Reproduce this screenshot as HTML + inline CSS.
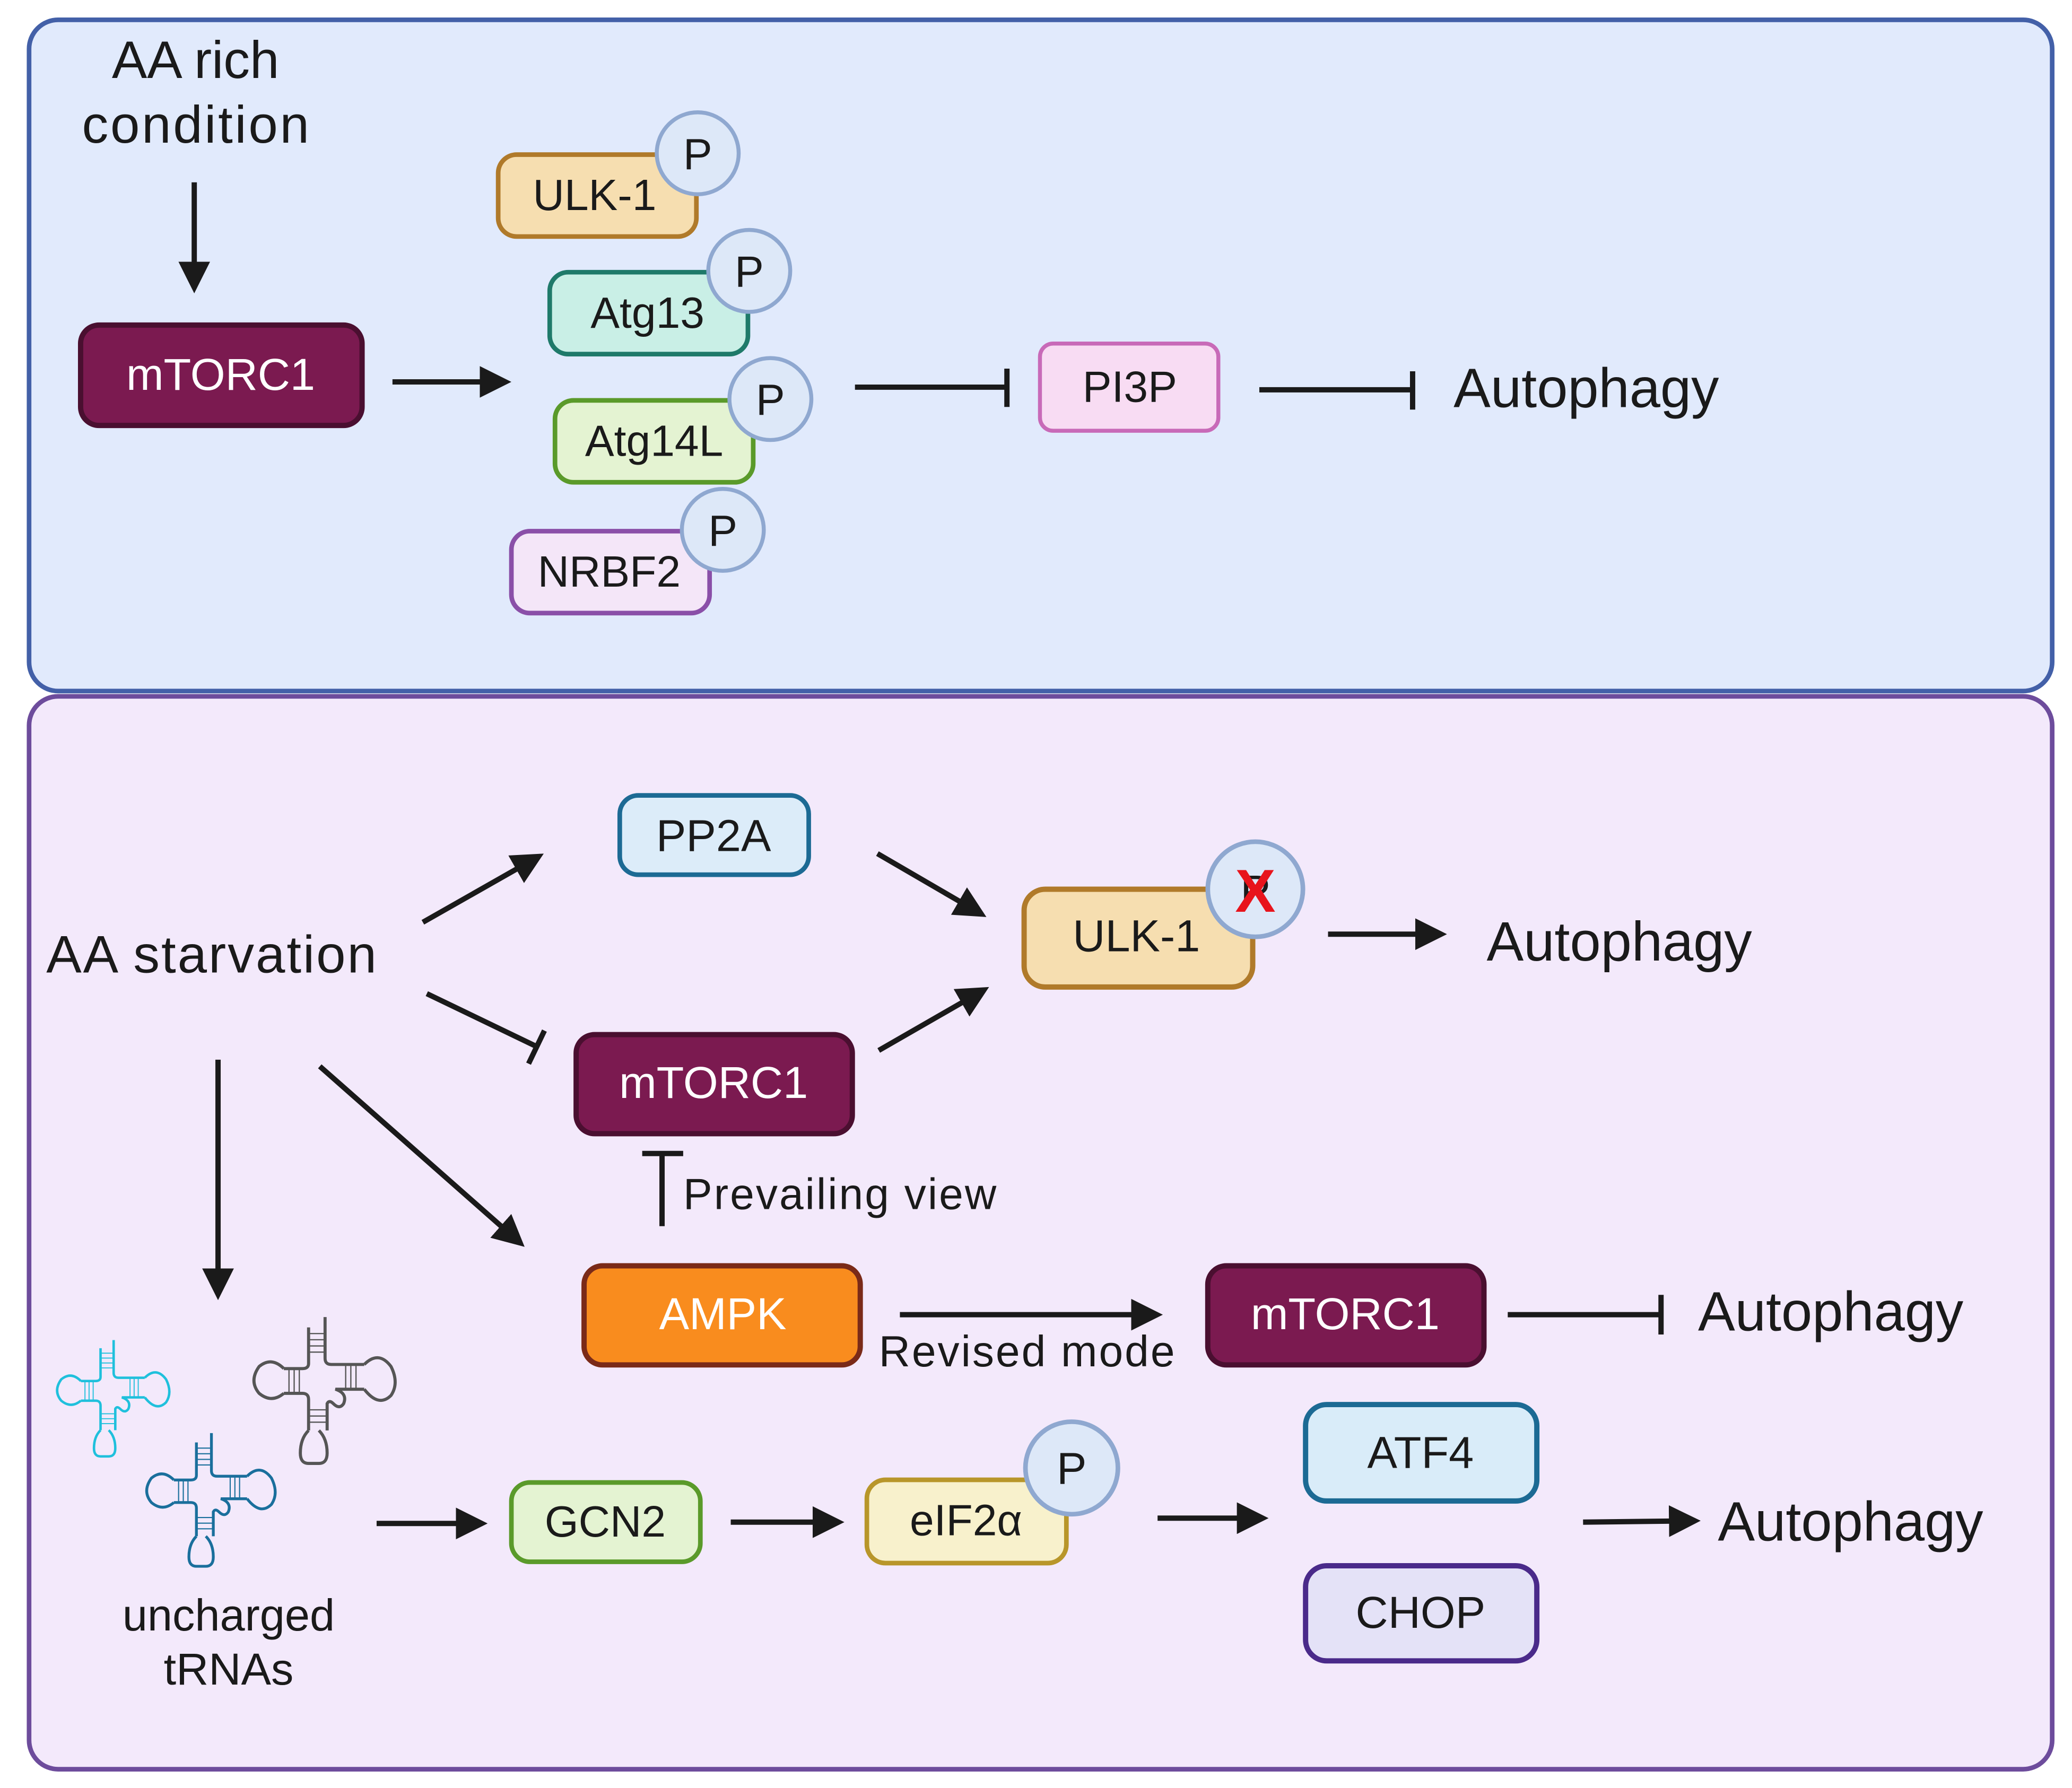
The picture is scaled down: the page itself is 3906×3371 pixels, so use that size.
<!DOCTYPE html>
<html><head><meta charset="utf-8"><style>
html,body{margin:0;padding:0;background:#fff}
svg{display:block}
text{font-family:"Liberation Sans",Arial,sans-serif;fill:#1a1a1a}
</style></head><body>
<svg width="3906" height="3371" viewBox="0 0 1568 1353.2" xmlns="http://www.w3.org/2000/svg">
<defs>
<marker id="ah" markerWidth="6" markerHeight="6" refX="5" refY="3" orient="auto" markerUnits="strokeWidth">
<path d="M0,0 L6,3 L0,6 z" fill="#1a1a1a"/></marker>
<g id="trna" fill="none" stroke-width="3">
<path d="M0,-40 V0 Q0,6 6,6 H38"/>
<path d="M-16,-30 V5 Q-16,10 -22,10 H-40"/>
<path d="M-40,34 H-22 Q-16,34 -16,40 V70"/>
<path d="M2,70 V44 Q4,40 8,44 Q14,50 18,44 Q22,34 10,30 H38"/>
<path d="M38,6 Q52,-8 64,8 Q72,24 64,36 Q52,48 38,30"/>
<path d="M-40,10 Q-52,-2 -64,8 Q-74,22 -64,34 Q-52,44 -40,34"/>
<path d="M-16,70 Q-24,78 -24,92 Q-24,102 -16,102 H-6 Q2,102 2,92 Q2,78 -6,70"/>
<path stroke-width="1.2" d="M-16,-24 H0 M-16,-18 H0 M-16,-12 H0 M-16,-6 H0 M-35,10 V34 M-30,10 V34 M-25,10 V34 M20,6 V30 M25,6 V30 M30,6 V30 M-16,50 H2 M-16,56 H2 M-16,62 H2"/>
</g>
</defs>

<!-- panels -->
<rect x="22" y="15" width="1531" height="508" rx="22" fill="#e1eafc" stroke="#4360a8" stroke-width="3.5"/>
<rect x="22" y="527" width="1531" height="812" rx="22" fill="#f3e9fb" stroke="#6d4c9c" stroke-width="3.5"/>

<!-- top panel -->
<text x="148" y="59" font-size="40" text-anchor="middle">AA rich</text>
<text x="148" y="108" font-size="40" text-anchor="middle" textLength="172">condition</text>
<line x1="147" y1="138" x2="147" y2="218" stroke="#1a1a1a" stroke-width="4" marker-end="url(#ah)"/>
<rect x="61" y="246" width="213" height="76" rx="14" fill="#7b1a50" stroke="#4a0f30" stroke-width="4"/>
<text x="167" y="295" font-size="34" text-anchor="middle" style="fill:#fff">mTORC1</text>
<line x1="297" y1="289" x2="383" y2="289" stroke="#1a1a1a" stroke-width="4" marker-end="url(#ah)"/>

<rect x="377" y="117" width="150" height="62" rx="14" fill="#f6deb0" stroke="#b07a2a" stroke-width="3.5"/>
<text x="450" y="159" font-size="33" text-anchor="middle">ULK-1</text>
<circle cx="528" cy="116" r="31" fill="#dde8f8" stroke="#8fa8d0" stroke-width="3"/>
<text x="528" y="128" font-size="33" text-anchor="middle">P</text>

<rect x="416" y="206" width="150" height="62" rx="14" fill="#c9efe6" stroke="#1f7a6a" stroke-width="3.5"/>
<text x="490" y="248" font-size="33" text-anchor="middle">Atg13</text>
<circle cx="567" cy="205" r="31" fill="#dde8f8" stroke="#8fa8d0" stroke-width="3"/>
<text x="567" y="217" font-size="33" text-anchor="middle">P</text>

<rect x="420" y="303" width="150" height="62" rx="14" fill="#e4f3d2" stroke="#5a9a2a" stroke-width="3.5"/>
<text x="495" y="345" font-size="33" text-anchor="middle">Atg14L</text>
<circle cx="583" cy="302" r="31" fill="#dde8f8" stroke="#8fa8d0" stroke-width="3"/>
<text x="583" y="314" font-size="33" text-anchor="middle">P</text>

<rect x="387" y="402" width="150" height="62" rx="14" fill="#f4e6f8" stroke="#8a4fa8" stroke-width="3.5"/>
<text x="461" y="444" font-size="33" text-anchor="middle">NRBF2</text>
<circle cx="547" cy="401" r="31" fill="#dde8f8" stroke="#8fa8d0" stroke-width="3"/>
<text x="547" y="413" font-size="33" text-anchor="middle">P</text>

<line x1="647" y1="293" x2="762" y2="293" stroke="#1a1a1a" stroke-width="4"/>
<line x1="762" y1="279" x2="762" y2="308" stroke="#1a1a1a" stroke-width="4"/>
<rect x="787" y="260" width="135" height="66" rx="10" fill="#f8dcf3" stroke="#c86ab8" stroke-width="3"/>
<text x="855" y="304" font-size="33" text-anchor="middle">PI3P</text>
<line x1="953" y1="295" x2="1069" y2="295" stroke="#1a1a1a" stroke-width="4"/>
<line x1="1069" y1="281" x2="1069" y2="310" stroke="#1a1a1a" stroke-width="4"/>
<text x="1100" y="308" font-size="42">Autophagy</text>

<!-- bottom panel -->
<text x="35" y="736" font-size="40" textLength="250">AA starvation</text>
<line x1="320" y1="698" x2="408" y2="648" stroke="#1a1a1a" stroke-width="4" marker-end="url(#ah)"/>
<rect x="469" y="602" width="143" height="60" rx="14" fill="#dcecf9" stroke="#1c6a94" stroke-width="3.5"/>
<text x="540" y="644" font-size="34" text-anchor="middle">PP2A</text>
<line x1="664" y1="646" x2="743" y2="692" stroke="#1a1a1a" stroke-width="4" marker-end="url(#ah)"/>
<line x1="665" y1="795" x2="745" y2="749" stroke="#1a1a1a" stroke-width="4" marker-end="url(#ah)"/>

<rect x="775" y="673" width="173" height="74" rx="16" fill="#f6deb0" stroke="#b07a2a" stroke-width="4"/>
<text x="860" y="720" font-size="34" text-anchor="middle">ULK-1</text>
<circle cx="950" cy="673" r="36" fill="#dde8f8" stroke="#8fa8d0" stroke-width="3.5"/>
<text x="950" y="686" font-size="34" text-anchor="middle">P</text>
<text x="950" y="690" font-size="46" font-weight="bold" text-anchor="middle" style="fill:#e8141c">X</text>
<line x1="1005" y1="707" x2="1091" y2="707" stroke="#1a1a1a" stroke-width="4" marker-end="url(#ah)"/>
<text x="1125" y="727" font-size="42">Autophagy</text>

<line x1="323" y1="752" x2="406" y2="792" stroke="#1a1a1a" stroke-width="4"/>
<line x1="400" y1="805" x2="412" y2="780" stroke="#1a1a1a" stroke-width="4"/>
<rect x="436" y="783" width="209" height="75" rx="14" fill="#7b1a50" stroke="#4a0f30" stroke-width="4"/>
<text x="540" y="831" font-size="34" text-anchor="middle" style="fill:#fff">mTORC1</text>

<line x1="501" y1="928" x2="501" y2="873" stroke="#1a1a1a" stroke-width="4"/>
<line x1="486" y1="873" x2="517" y2="873" stroke="#1a1a1a" stroke-width="4"/>
<text x="517" y="915" font-size="33" textLength="237">Prevailing view</text>

<line x1="165" y1="802" x2="165" y2="980" stroke="#1a1a1a" stroke-width="4" marker-end="url(#ah)"/>
<line x1="242" y1="807" x2="394" y2="941" stroke="#1a1a1a" stroke-width="4" marker-end="url(#ah)"/>

<rect x="442" y="958" width="209" height="75" rx="14" fill="#f98c1e" stroke="#7a2a18" stroke-width="4"/>
<text x="547" y="1006" font-size="34" text-anchor="middle" style="fill:#fff">AMPK</text>
<line x1="681" y1="995" x2="876" y2="995" stroke="#1a1a1a" stroke-width="4" marker-end="url(#ah)"/>
<text x="665" y="1034" font-size="33" textLength="224">Revised mode</text>
<rect x="914" y="958" width="209" height="75" rx="14" fill="#7b1a50" stroke="#4a0f30" stroke-width="4"/>
<text x="1018" y="1006" font-size="34" text-anchor="middle" style="fill:#fff">mTORC1</text>
<line x1="1141" y1="995" x2="1257" y2="995" stroke="#1a1a1a" stroke-width="4"/>
<line x1="1257" y1="980" x2="1257" y2="1010" stroke="#1a1a1a" stroke-width="4"/>
<text x="1285" y="1007" font-size="42">Autophagy</text>

<!-- tRNAs -->
<use href="#trna" transform="translate(86,1039) scale(0.62)" stroke="#1fc0dc"/>
<use href="#trna" transform="translate(246,1028) scale(0.78)" stroke="#555"/>
<use href="#trna" transform="translate(160,1113) scale(0.71)" stroke="#1a6f9c"/>
<text x="173" y="1234" font-size="34" text-anchor="middle">uncharged</text>
<text x="173" y="1275" font-size="34" text-anchor="middle">tRNAs</text>

<line x1="285" y1="1153" x2="365" y2="1153" stroke="#1a1a1a" stroke-width="4" marker-end="url(#ah)"/>
<rect x="387" y="1122" width="143" height="60" rx="14" fill="#e4f3d2" stroke="#5a9a2a" stroke-width="3.5"/>
<text x="458" y="1163" font-size="33" text-anchor="middle">GCN2</text>
<line x1="553" y1="1152" x2="635" y2="1152" stroke="#1a1a1a" stroke-width="4" marker-end="url(#ah)"/>
<rect x="656" y="1120" width="151" height="63" rx="14" fill="#f8f1cc" stroke="#b8962a" stroke-width="3.5"/>
<text x="731" y="1162" font-size="33" text-anchor="middle">eIF2α</text>
<circle cx="811" cy="1111" r="35" fill="#dde8f8" stroke="#8fa8d0" stroke-width="3.5"/>
<text x="811" y="1123" font-size="34" text-anchor="middle">P</text>
<line x1="876" y1="1149" x2="956" y2="1149" stroke="#1a1a1a" stroke-width="4" marker-end="url(#ah)"/>

<rect x="988" y="1063" width="175" height="73" rx="16" fill="#d9ecf9" stroke="#1c6a94" stroke-width="4"/>
<text x="1075" y="1111" font-size="34" text-anchor="middle">ATF4</text>
<rect x="988" y="1185" width="175" height="72" rx="16" fill="#e4e2f7" stroke="#4a2a8a" stroke-width="4"/>
<text x="1075" y="1232" font-size="34" text-anchor="middle">CHOP</text>
<line x1="1198" y1="1152" x2="1283" y2="1151" stroke="#1a1a1a" stroke-width="4" marker-end="url(#ah)"/>
<text x="1300" y="1166" font-size="42">Autophagy</text>
</svg>
</body></html>
